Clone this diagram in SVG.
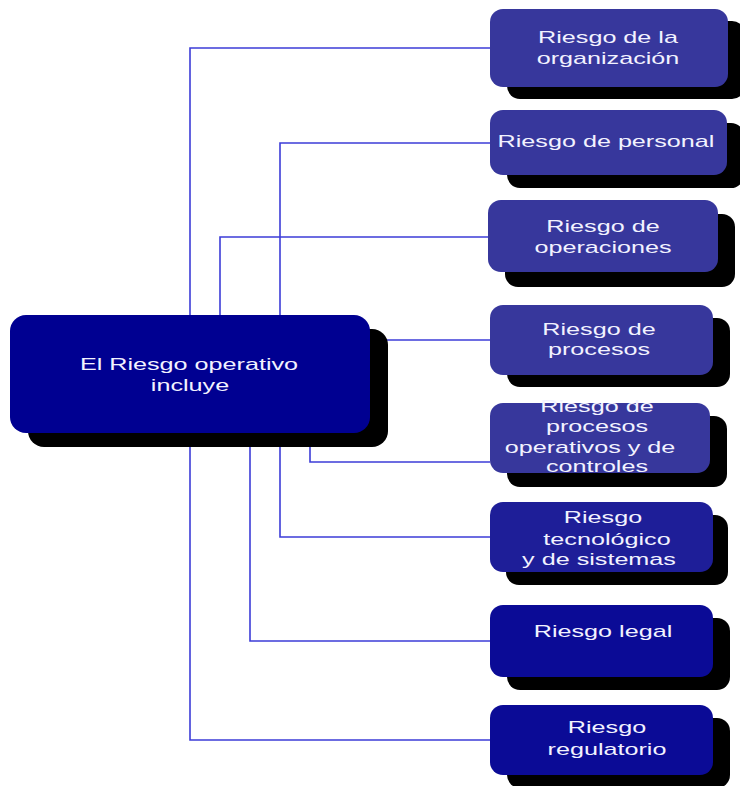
<svg xmlns="http://www.w3.org/2000/svg" width="740" height="786" viewBox="0 0 740 786">
  <style>
    .link { fill: none; stroke: #3c3cd8; stroke-width: 1.6; }
    .shadow { fill: #000000; }
    .lbl { font-family: "Liberation Sans", Arial, sans-serif; font-size: 17px; fill: #f2f2ff; text-anchor: middle; }
    .mid { fill: #37379c; }
    .deep1 { fill: #1e1e98; }
    .deep2 { fill: #0b0b96; }
    .core { fill: #000091; }
  </style>

  <!-- connectors from the central box to each category -->
  <g id="connectors">
    <path class="link" d="M190,330 V48 H490"/>
    <path class="link" d="M280,330 V143 H490"/>
    <path class="link" d="M220,330 V237 H490"/>
    <path class="link" d="M385,340 H490"/>
    <path class="link" d="M310,440 V462 H490"/>
    <path class="link" d="M280,440 V537 H490"/>
    <path class="link" d="M250,440 V641 H490"/>
    <path class="link" d="M190,440 V740 H490"/>
  </g>

  <g id="node-main">
    <rect class="shadow" x="28" y="329" width="360" height="118" rx="16"/>
    <rect class="core" x="10" y="315" width="360" height="118" rx="16"/>
    <text class="lbl" transform="translate(189,370) scale(1.48,1)">El Riesgo operativo</text>
    <text class="lbl" transform="translate(190,391) scale(1.48,1)">incluye</text>
  </g>

  <g id="node-organizacion">
    <rect class="shadow" x="507" y="21" width="238" height="78" rx="13"/>
    <rect class="mid" x="490" y="9" width="238" height="78" rx="13"/>
    <text class="lbl" transform="translate(608,43) scale(1.48,1)">Riesgo de la</text>
    <text class="lbl" transform="translate(608,64) scale(1.48,1)">organización</text>
  </g>

  <g id="node-personal">
    <rect class="shadow" x="507" y="123" width="237" height="65" rx="13"/>
    <rect class="mid" x="490" y="110" width="237" height="65" rx="13"/>
    <text class="lbl" transform="translate(606,147) scale(1.48,1)">Riesgo de personal</text>
  </g>

  <g id="node-operaciones">
    <rect class="shadow" x="505" y="214" width="230" height="73" rx="13"/>
    <rect class="mid" x="488" y="200" width="230" height="72" rx="13"/>
    <text class="lbl" transform="translate(603,232) scale(1.48,1)">Riesgo de</text>
    <text class="lbl" transform="translate(603,253) scale(1.48,1)">operaciones</text>
  </g>

  <g id="node-procesos">
    <rect class="shadow" x="507" y="318" width="223" height="69" rx="13"/>
    <rect class="mid" x="490" y="305" width="223" height="70" rx="13"/>
    <text class="lbl" transform="translate(599,335) scale(1.48,1)">Riesgo de</text>
    <text class="lbl" transform="translate(599,355) scale(1.48,1)">procesos</text>
  </g>

  <g id="node-procesos-controles">
    <rect class="shadow" x="507" y="416" width="220" height="71" rx="13"/>
    <rect class="mid" x="490" y="403" width="220" height="70" rx="13"/>
    <text class="lbl" transform="translate(597,412) scale(1.48,1)">Riesgo de</text>
    <text class="lbl" transform="translate(597,432) scale(1.48,1)">procesos</text>
    <text class="lbl" transform="translate(590,453) scale(1.48,1)">operativos y de</text>
    <text class="lbl" transform="translate(597,472) scale(1.48,1)">controles</text>
  </g>

  <g id="node-tecnologico">
    <rect class="shadow" x="506" y="515" width="222" height="70" rx="13"/>
    <rect class="deep1" x="490" y="502" width="223" height="70" rx="13"/>
    <text class="lbl" transform="translate(603,523) scale(1.48,1)">Riesgo</text>
    <text class="lbl" transform="translate(607,545) scale(1.48,1)">tecnológico</text>
    <text class="lbl" transform="translate(599,565) scale(1.48,1)">y de sistemas</text>
  </g>

  <g id="node-legal">
    <rect class="shadow" x="507" y="618" width="223" height="72" rx="13"/>
    <rect class="deep2" x="490" y="605" width="223" height="72" rx="13"/>
    <text class="lbl" transform="translate(603,637) scale(1.48,1)">Riesgo legal</text>
  </g>

  <g id="node-regulatorio">
    <rect class="shadow" x="507" y="718" width="223" height="70" rx="13"/>
    <rect class="deep2" x="490" y="705" width="223" height="70" rx="13"/>
    <text class="lbl" transform="translate(607,733) scale(1.48,1)">Riesgo</text>
    <text class="lbl" transform="translate(607,755) scale(1.48,1)">regulatorio</text>
  </g>
</svg>
